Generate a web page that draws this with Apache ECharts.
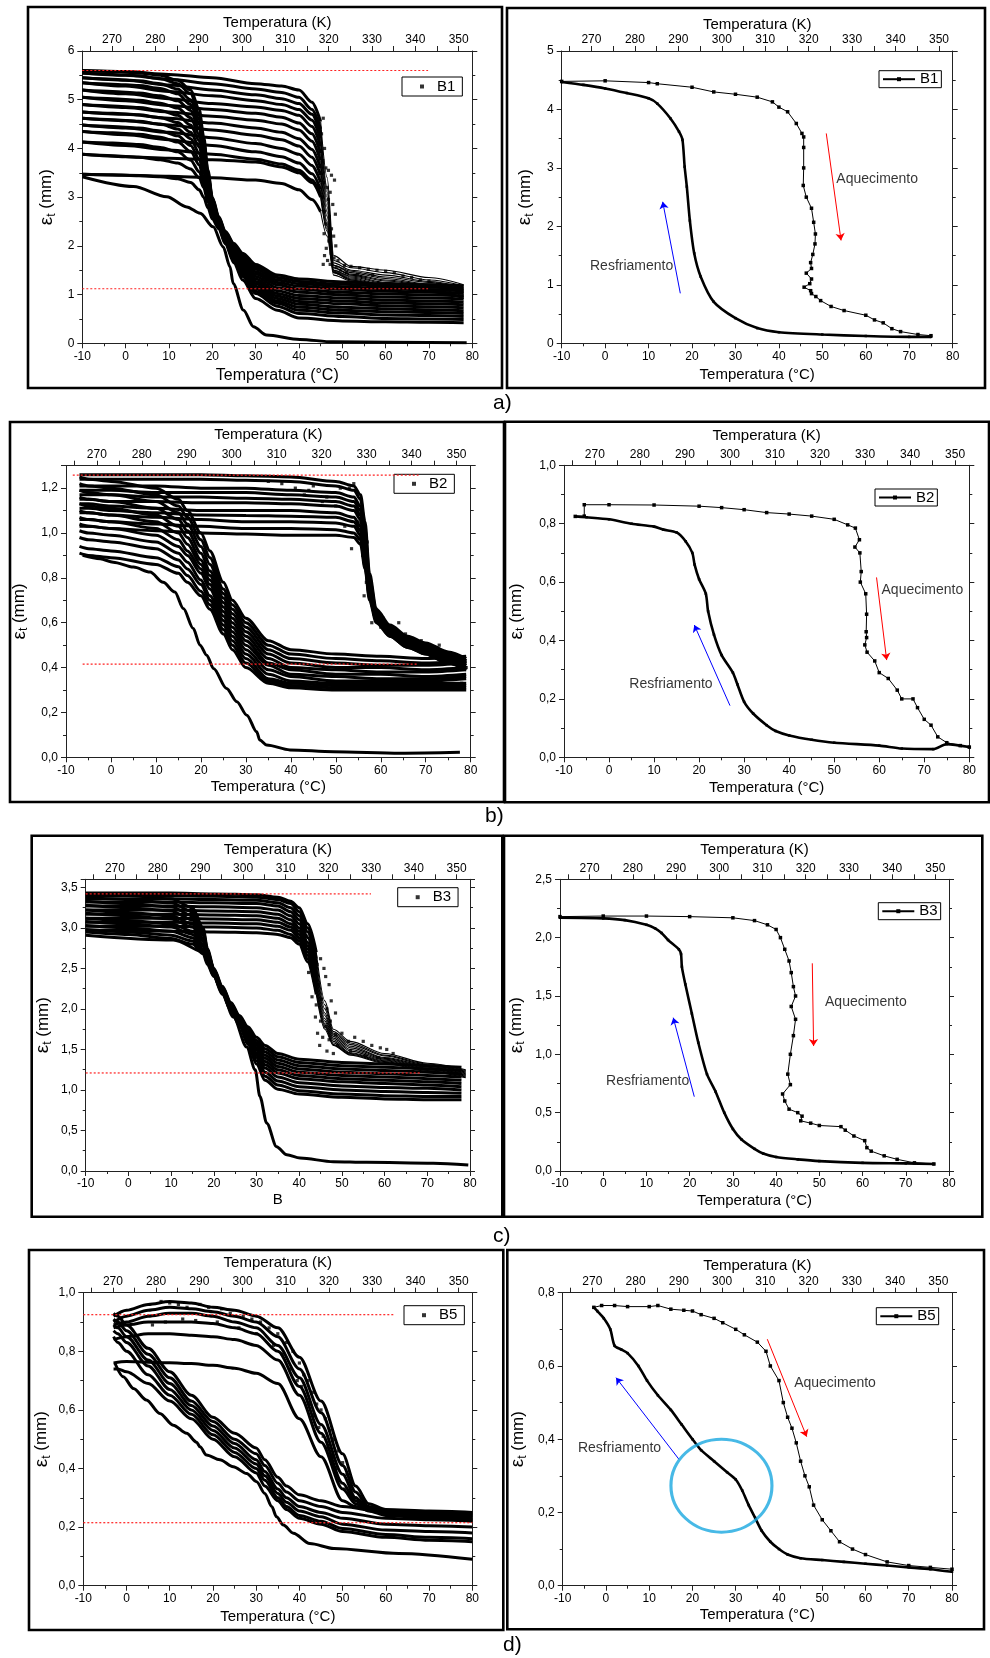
<!DOCTYPE html>
<html><head><meta charset="utf-8">
<script src="https://cdn.jsdelivr.net/npm/echarts@6/dist/echarts.min.js"></script>
<style>html,body{margin:0;padding:0;background:#fff}#c{width:990px;height:1658px}</style>
</head><body><div id="c"></div>
<script>
// ---------------- DATA ----------------
const kLabelVals = [270, 280, 290, 300, 310, 320, 330, 340, 350];
const kTickVals = [265, 270, 275, 280, 285, 290, 295, 300, 305, 310, 315, 320, 325, 330, 335, 340, 345, 350];

// ===== B1 (a, left): many cycles =====
const b1HeatT = [-10, 0, 10, 20, 30, 36, 40, 43, 45, 46.5, 48, 52, 60, 70, 78];
const b1Heat = [
  [5.60,5.58,5.52,5.45,5.33,5.28,5.20,4.95,4.55,3.40,1.80,1.58,1.50,1.35,1.20],
  [5.55,5.50,5.42,5.33,5.22,5.15,5.05,4.80,4.40,3.20,1.70,1.55,1.45,1.30,1.18],
  [5.45,5.40,5.30,5.20,5.10,5.02,4.92,4.70,4.30,3.10,1.65,1.50,1.40,1.27,1.15],
  [5.35,5.28,5.17,5.08,4.98,4.90,4.80,4.58,4.20,3.00,1.60,1.48,1.36,1.25,1.12],
  [5.20,5.12,5.02,4.92,4.85,4.78,4.68,4.45,4.05,2.90,1.60,1.45,1.33,1.22,1.10],
  [5.05,4.98,4.88,4.80,4.72,4.64,4.52,4.30,3.90,2.80,1.55,1.42,1.30,1.20,1.08],
  [4.90,4.84,4.75,4.66,4.58,4.50,4.38,4.15,3.75,2.70,1.55,1.40,1.28,1.18,1.05],
  [4.75,4.70,4.62,4.52,4.42,4.33,4.20,3.98,3.60,2.60,1.50,1.38,1.25,1.15,1.03],
  [4.62,4.57,4.48,4.38,4.27,4.18,4.05,3.82,3.45,2.50,1.50,1.36,1.23,1.12,1.00],
  [4.48,4.42,4.33,4.22,4.10,4.00,3.88,3.65,3.30,2.45,1.48,1.34,1.20,1.10,0.98],
  [4.35,4.28,4.18,4.06,3.93,3.83,3.70,3.48,3.15,2.40,1.46,1.32,1.18,1.08,0.96],
  [4.13,4.06,3.97,3.88,3.78,3.68,3.55,3.35,3.05,2.35,1.45,1.30,1.16,1.06,0.95],
  [3.88,3.83,3.80,3.77,3.72,3.62,3.50,3.30,3.00,2.30,1.45,1.30,1.15,1.05,0.93],
  [3.47,3.45,3.43,3.40,3.35,3.28,3.15,2.95,2.70,2.20,1.40,1.28,1.15,1.05,0.92]
];
const b1CoolT = [78, 70, 60, 50, 40, 35, 30, 27, 25, 23, 21.5, 20, 19, 18, 17, 15, 12, 8, 3, -3, -10];
const b1Cool = [
  [1.18,1.20,1.22,1.26,1.32,1.40,1.62,1.85,2.05,2.30,2.60,3.00,3.55,4.25,4.80,5.20,5.40,5.50,5.55,5.58,5.60],
  [1.13,1.15,1.17,1.21,1.27,1.35,1.57,1.81,2.02,2.28,2.58,2.98,3.50,4.18,4.70,5.12,5.33,5.43,5.49,5.52,5.55],
  [1.08,1.10,1.12,1.16,1.22,1.30,1.52,1.77,1.99,2.26,2.56,2.95,3.45,4.10,4.60,5.00,5.22,5.33,5.39,5.42,5.45],
  [1.03,1.05,1.07,1.11,1.17,1.25,1.47,1.73,1.96,2.24,2.55,2.93,3.42,4.02,4.50,4.90,5.12,5.23,5.29,5.32,5.35],
  [0.97,0.99,1.01,1.05,1.11,1.20,1.42,1.69,1.93,2.22,2.54,2.90,3.38,3.95,4.40,4.78,4.98,5.08,5.14,5.17,5.20],
  [0.91,0.93,0.95,0.99,1.05,1.14,1.37,1.65,1.90,2.20,2.52,2.88,3.33,3.88,4.28,4.63,4.83,4.93,4.99,5.02,5.05],
  [0.85,0.87,0.89,0.93,0.98,1.08,1.32,1.61,1.87,2.18,2.50,2.85,3.28,3.80,4.16,4.48,4.68,4.78,4.84,4.87,4.90],
  [0.79,0.81,0.83,0.87,0.92,1.02,1.27,1.57,1.84,2.16,2.48,2.82,3.23,3.70,4.03,4.33,4.53,4.63,4.69,4.72,4.75],
  [0.73,0.75,0.77,0.81,0.86,0.97,1.22,1.53,1.81,2.14,2.46,2.78,3.18,3.60,3.90,4.20,4.40,4.50,4.56,4.59,4.62],
  [0.67,0.69,0.71,0.74,0.80,0.92,1.17,1.49,1.78,2.12,2.44,2.74,3.12,3.50,3.78,4.06,4.26,4.36,4.42,4.45,4.48],
  [0.61,0.63,0.65,0.68,0.74,0.87,1.12,1.45,1.75,2.10,2.42,2.70,3.05,3.40,3.66,3.94,4.13,4.23,4.29,4.32,4.35],
  [0.55,0.57,0.58,0.62,0.68,0.82,1.07,1.41,1.72,2.08,2.40,2.66,2.98,3.30,3.52,3.76,3.93,4.02,4.08,4.11,4.13],
  [0.49,0.50,0.51,0.55,0.61,0.76,1.02,1.37,1.69,2.06,2.38,2.62,2.90,3.20,3.40,3.58,3.70,3.77,3.82,3.85,3.88],
  [0.42,0.43,0.44,0.46,0.52,0.68,0.92,1.30,1.65,2.04,2.35,2.55,2.78,3.00,3.15,3.30,3.38,3.42,3.44,3.46,3.47]
];
const b1First = [[-10,3.42],[1.8,3.22],[9.5,3.01],[14.1,2.8],[17.2,2.67],[20.2,2.39],[22.5,1.98],[24.1,1.57],[24.8,1.23],[27.2,0.68],[29.5,0.34],[32.5,0.17],[40.2,0.08],[47.9,0.03],[78.7,0.01]];
const b1Cloud = [[45.6,4.62],[45.2,4.3],[44.8,4.1],[45.9,4.0],[44.5,3.9],[45.5,3.75],[46.2,3.6],[44.9,3.5],[46.8,3.55],[47.5,3.45],[45.8,3.3],[46.5,3.2],[47.2,3.1],[48.2,3.35],[45.5,3.0],[46.8,2.95],[47.8,2.85],[45.9,2.7],[47.0,2.6],[48.4,2.65],[46.2,2.45],[47.5,2.35],[48.0,2.2],[45.8,2.25],[46.9,2.1],[48.5,2.0],[46.3,1.95],[47.4,1.85],[45.9,1.8],[48.1,1.75],[46.6,1.7],[49.0,1.7],[47.2,1.62],[45.6,1.62],[50.5,1.6],[52,1.58],[54,1.55],[56,1.52],[58,1.5],[60,1.48],[62,1.45],[64,1.38],[66,1.35],[68,1.3],[70,1.28],[48.6,1.55],[49.5,1.5],[51,1.45],[53.5,1.42],[57,1.4],[72,1.22],[75,1.18],[77,1.1]];
const b1Ref = [[5.6,-10,69.8],[1.12,-10,69.8]];

// ===== B1 (a, right): single cycle =====
const b1RCool = [[75,0.11],[70,0.11],[60,0.125],[50,0.15],[40,0.19],[35,0.26],[30,0.43],[25,0.71],[22,1.14],[20.5,1.54],[19.5,2.1],[18.8,2.68],[18.3,3.02],[17.8,3.48],[17,3.62],[15,3.85],[12,4.1],[10,4.19],[5,4.28],[0,4.36],[-5,4.42],[-10,4.47]];
const b1RHeat = [[-10,4.48],[0,4.49],[10,4.46],[12,4.44],[20,4.38],[25,4.3],[30,4.26],[35,4.21],[38.5,4.13],[40,4.04],[42,3.96],[44,3.76],[45.3,3.59],[45.7,3.53],[45.7,3.35],[45.7,3.0],[45.6,2.7],[46.3,2.5],[47.5,2.31],[48,2.07],[48.4,1.87],[48.3,1.7],[47.8,1.52],[47.3,1.38],[47.5,1.28],[46.3,1.2],[47.5,1.1],[47.1,1.02],[45.8,0.96],[47.3,0.9],[47.5,0.85],[48.5,0.8],[49.6,0.73],[52,0.63],[55,0.56],[60,0.48],[62,0.4],[64,0.35],[66,0.25],[68,0.2],[72,0.15],[75,0.13]];
const b1Up = [[17.3,0.855],[13.25,2.42]];
const b1Down = [[50.9,3.59],[54.3,1.76]];
const b1Notes = [[53.2,2.8,'Aquecimento'],[-3.5,1.32,'Resfriamento']];

// ===== B2 (b, left) =====
const b2HeatT = [-7, -5, 0, 10, 20, 30, 40, 50, 54, 55.5, 56.5, 57.5, 59, 62, 66, 70, 75, 79];
const b2Heat = [
  [1.26,1.26,1.26,1.26,1.26,1.255,1.25,1.23,1.21,1.17,1.05,0.82,0.66,0.59,0.54,0.51,0.47,0.44],
  [1.24,1.24,1.24,1.24,1.24,1.235,1.23,1.21,1.19,1.15,1.02,0.80,0.65,0.58,0.53,0.50,0.46,0.43],
  [1.21,1.21,1.21,1.21,1.20,1.20,1.19,1.18,1.16,1.12,0.99,0.78,0.64,0.58,0.53,0.50,0.46,0.43],
  [1.19,1.19,1.19,1.18,1.18,1.18,1.17,1.16,1.14,1.10,0.96,0.77,0.64,0.57,0.52,0.49,0.45,0.42],
  [1.17,1.17,1.17,1.16,1.16,1.155,1.15,1.14,1.12,1.08,0.94,0.76,0.63,0.57,0.52,0.49,0.45,0.42],
  [1.15,1.15,1.14,1.14,1.135,1.135,1.13,1.12,1.10,1.06,0.92,0.75,0.63,0.56,0.51,0.48,0.44,0.41],
  [1.13,1.13,1.12,1.11,1.10,1.10,1.10,1.09,1.07,1.03,0.90,0.74,0.62,0.56,0.51,0.48,0.44,0.41],
  [1.11,1.11,1.10,1.09,1.08,1.078,1.075,1.07,1.05,1.01,0.88,0.73,0.62,0.55,0.50,0.47,0.43,0.40],
  [1.09,1.09,1.08,1.07,1.06,1.05,1.05,1.045,1.03,0.99,0.86,0.72,0.61,0.55,0.50,0.47,0.43,0.40],
  [1.06,1.06,1.05,1.04,1.03,1.02,1.02,1.015,1.00,0.97,0.85,0.71,0.61,0.54,0.49,0.46,0.42,0.39],
  [1.03,1.03,1.02,1.01,1.00,0.995,0.99,0.99,0.98,0.95,0.84,0.70,0.60,0.54,0.49,0.46,0.42,0.39]
];
const b2CoolT = [79, 70, 60, 50, 40, 35, 30, 27, 25, 22, 20, 17, 15, 10, 0, -5, -7];
const b2Cool = [
  [0.45,0.44,0.45,0.46,0.48,0.52,0.62,0.70,0.78,0.92,1.00,1.10,1.15,1.20,1.23,1.24,1.25],
  [0.43,0.42,0.43,0.44,0.46,0.50,0.60,0.68,0.75,0.89,0.97,1.07,1.12,1.17,1.20,1.21,1.22],
  [0.42,0.41,0.41,0.42,0.44,0.48,0.58,0.66,0.73,0.86,0.94,1.04,1.09,1.14,1.17,1.18,1.19],
  [0.40,0.39,0.40,0.40,0.42,0.46,0.56,0.64,0.71,0.83,0.91,1.01,1.06,1.11,1.14,1.15,1.16],
  [0.39,0.38,0.38,0.39,0.40,0.44,0.54,0.62,0.69,0.81,0.88,0.98,1.03,1.08,1.11,1.12,1.13],
  [0.37,0.36,0.37,0.37,0.39,0.42,0.52,0.60,0.67,0.79,0.86,0.95,1.00,1.05,1.08,1.09,1.10],
  [0.36,0.35,0.35,0.36,0.37,0.41,0.50,0.58,0.65,0.77,0.84,0.92,0.97,1.02,1.05,1.06,1.07],
  [0.35,0.34,0.34,0.34,0.36,0.39,0.48,0.56,0.63,0.75,0.82,0.90,0.94,0.99,1.02,1.03,1.04],
  [0.33,0.33,0.33,0.33,0.34,0.37,0.46,0.54,0.61,0.72,0.79,0.87,0.91,0.96,0.99,1.00,1.01],
  [0.32,0.32,0.32,0.32,0.33,0.35,0.44,0.52,0.59,0.70,0.77,0.84,0.88,0.93,0.96,0.97,0.98],
  [0.31,0.31,0.31,0.31,0.32,0.34,0.42,0.50,0.57,0.68,0.74,0.81,0.85,0.89,0.92,0.93,0.94],
  [0.30,0.30,0.30,0.30,0.31,0.33,0.40,0.48,0.55,0.66,0.72,0.78,0.82,0.86,0.89,0.90,0.91]
];
const b2First = [[77.6,0.022],[64.3,0.018],[49.5,0.025],[39.8,0.033],[34.6,0.055],[33.1,0.077],[32.4,0.114],[30.2,0.188],[28,0.248],[25.7,0.307],[22.8,0.396],[21.3,0.455],[19.8,0.5],[18.3,0.574],[16.1,0.663],[14.2,0.737],[11.6,0.78],[8.7,0.826],[5,0.848],[0.5,0.87],[-2.4,0.885],[-6.3,0.9]];
const b2Cloud = [[53.5,0.93],[55,1.05],[55.5,0.98],[56,0.9],[56.5,0.85],[57,0.96],[56.8,0.78],[57.5,0.72],[56.3,0.72],[58,0.68],[59,0.66],[60.5,0.62],[61,0.6],[63,0.57],[64,0.6],[65.5,0.55],[67,0.53],[69,0.52],[70.5,0.5],[72,0.48],[73,0.5],[74,0.47],[76,0.44],[58,0.6],[60,0.58],[62,0.55],[66,0.5],[68,0.48],[71,0.45],[73.5,0.43],[52,1.03],[50,1.12],[47,1.14],[44,1.19],[41,1.2],[38,1.22],[35,1.23],[51,1.2],[53,1.2],[54,1.22],[45,1.21],[43,1.17],[48,1.16],[77,0.36],[78,0.33],[79,0.4]];
const b2Ref = [[1.258,-8.5,68.4],[0.415,-6.3,68.4]];

// ===== B2 (b, right) =====
const b2RCool = [[80,0.035],[75,0.045],[72,0.028],[65,0.03],[60,0.04],[50,0.05],[45,0.06],[40,0.075],[37,0.09],[35,0.11],[32,0.15],[30,0.19],[28.5,0.25],[27.5,0.29],[25,0.35],[23.3,0.42],[22,0.5],[21.5,0.56],[20,0.61],[19,0.66],[18.5,0.7],[17,0.74],[15,0.77],[12,0.78],[10,0.79],[5,0.8],[0,0.815],[-5,0.822],[-7.5,0.825]];
const b2RHeat = [[-7.5,0.825],[-5.5,0.826],[-5.5,0.865],[0,0.865],[10,0.864],[20,0.86],[25,0.855],[30,0.848],[35,0.838],[40,0.833],[45,0.826],[50,0.815],[53,0.796],[54.7,0.785],[55.6,0.745],[54.6,0.72],[55.7,0.7],[56,0.636],[55.8,0.6],[57,0.56],[57.2,0.49],[57.1,0.43],[57.2,0.41],[56.8,0.385],[57.3,0.36],[59,0.33],[60,0.29],[62,0.27],[64,0.23],[65,0.2],[67.5,0.2],[68.5,0.17],[70,0.13],[71.5,0.11],[73,0.07],[75,0.05],[78,0.04],[80,0.035]];
const b2Up = [[26.86,0.177],[18.94,0.453]];
const b2Down = [[59.4,0.616],[61.65,0.333]];
const b2Notes = [[60.5,0.573,'Aquecimento'],[4.5,0.251,'Resfriamento']];

// ===== B3 (c, left) =====
const b3HeatT = [-10, 0, 10, 20, 30, 35, 38, 40, 42, 44, 46, 48, 52, 60, 70, 79];
const b3Heat = [
  [3.43,3.43,3.43,3.42,3.41,3.38,3.33,3.25,3.05,2.70,2.10,1.75,1.60,1.45,1.33,1.25],
  [3.40,3.40,3.40,3.39,3.38,3.35,3.30,3.20,3.00,2.62,2.05,1.72,1.58,1.43,1.32,1.24],
  [3.36,3.36,3.36,3.35,3.34,3.31,3.25,3.15,2.95,2.55,2.00,1.70,1.56,1.42,1.31,1.23],
  [3.32,3.32,3.32,3.31,3.30,3.27,3.20,3.10,2.88,2.50,1.95,1.68,1.54,1.40,1.30,1.22],
  [3.27,3.27,3.27,3.26,3.25,3.22,3.15,3.05,2.82,2.45,1.92,1.66,1.52,1.39,1.29,1.21],
  [3.22,3.22,3.22,3.21,3.20,3.17,3.10,3.00,2.78,2.40,1.88,1.64,1.50,1.38,1.28,1.20],
  [3.17,3.17,3.17,3.16,3.15,3.12,3.05,2.96,2.74,2.35,1.85,1.62,1.48,1.37,1.27,1.19],
  [3.12,3.12,3.12,3.11,3.10,3.07,3.01,2.92,2.70,2.30,1.82,1.60,1.46,1.36,1.26,1.18],
  [3.07,3.07,3.07,3.06,3.05,3.02,2.97,2.88,2.66,2.26,1.80,1.58,1.45,1.35,1.25,1.17],
  [3.02,3.02,3.02,3.01,3.00,2.97,2.92,2.84,2.62,2.22,1.78,1.56,1.44,1.34,1.24,1.16],
  [2.97,2.97,2.96,2.95,2.94,2.92,2.88,2.80,2.58,2.18,1.75,1.55,1.43,1.33,1.23,1.15]
];
const b3CoolT = [78, 70, 60, 50, 40, 35, 32, 30, 28, 26, 24, 22, 20, 18.5, 17.5, 15, 10, 0, -10];
const b3Cool = [
  [1.28,1.30,1.32,1.34,1.38,1.45,1.55,1.65,1.78,1.92,2.08,2.28,2.50,2.75,3.00,3.25,3.36,3.40,3.42],
  [1.24,1.26,1.28,1.30,1.34,1.41,1.51,1.61,1.75,1.90,2.07,2.27,2.49,2.73,2.97,3.20,3.31,3.35,3.38],
  [1.20,1.22,1.24,1.26,1.30,1.37,1.47,1.58,1.72,1.88,2.06,2.26,2.48,2.71,2.94,3.15,3.26,3.30,3.33],
  [1.16,1.18,1.20,1.22,1.26,1.33,1.43,1.55,1.70,1.87,2.05,2.25,2.47,2.69,2.91,3.10,3.21,3.25,3.28],
  [1.12,1.14,1.16,1.18,1.22,1.29,1.39,1.52,1.68,1.86,2.04,2.24,2.46,2.67,2.87,3.05,3.15,3.19,3.22],
  [1.08,1.10,1.12,1.14,1.18,1.25,1.35,1.49,1.66,1.85,2.03,2.23,2.45,2.65,2.84,3.01,3.11,3.15,3.18],
  [1.04,1.06,1.08,1.10,1.14,1.21,1.31,1.46,1.64,1.84,2.02,2.22,2.44,2.63,2.80,2.96,3.05,3.09,3.12],
  [1.00,1.02,1.03,1.05,1.09,1.16,1.27,1.43,1.62,1.83,2.01,2.21,2.43,2.61,2.77,2.92,3.01,3.05,3.08],
  [0.96,0.97,0.98,1.00,1.04,1.11,1.22,1.40,1.60,1.82,2.00,2.20,2.42,2.59,2.74,2.88,2.96,3.00,3.03],
  [0.92,0.92,0.93,0.95,0.99,1.06,1.17,1.36,1.58,1.81,1.99,2.19,2.41,2.57,2.71,2.84,2.91,2.95,2.98],
  [0.88,0.88,0.89,0.91,0.95,1.01,1.12,1.32,1.56,1.80,1.98,2.18,2.40,2.55,2.68,2.80,2.87,2.92,2.95]
];
const b3First = [[-10,2.91],[10.5,2.85],[18.3,2.69],[21.5,2.27],[24.6,1.9],[27.7,1.53],[29.7,1.25],[30.8,0.92],[32.4,0.59],[34.7,0.3],[37.1,0.2],[40.2,0.16],[48,0.115],[55.8,0.107],[71.4,0.095],[79.6,0.074]];
const b3Cloud = [[40.2,2.85],[41,2.78],[41.8,2.9],[42.5,2.75],[43,2.6],[43.6,2.7],[44.2,2.55],[45,2.62],[45.8,2.5],[42.2,2.45],[43.5,2.35],[44.5,2.3],[46.2,2.4],[47,2.3],[43,2.15],[44,2.05],[45.2,2.12],[46.5,2.0],[47.5,2.1],[43.8,1.9],[45,1.85],[46,1.78],[47.3,1.85],[48.5,1.95],[44.3,1.7],[45.5,1.65],[47,1.62],[48.5,1.68],[50,1.7],[51.5,1.6],[53,1.65],[55,1.6],[57,1.55],[59,1.52],[60.5,1.5],[62,1.45],[49,1.55],[52,1.48],[55.5,1.42],[58.5,1.4],[61,1.38],[44.8,1.55],[46.5,1.48],[48,1.45]];
const b3Ref = [[3.42,-10,56.8],[1.21,-10,68.7]];

// ===== B3 (c, right) =====
const b3RCool = [[76.5,0.06],[70,0.065],[60,0.07],[50,0.085],[45,0.1],[40,0.12],[37,0.15],[35,0.19],[32,0.27],[30,0.36],[28,0.5],[26,0.68],[24,0.83],[22,1.1],[20.5,1.35],[19,1.6],[18.2,1.75],[18,1.86],[17.5,1.9],[15,1.98],[13.5,2.04],[12,2.08],[10,2.11],[5,2.15],[0,2.165],[-10,2.17]];
const b3RHeat = [[-10,2.18],[0,2.185],[10,2.185],[20,2.18],[30,2.17],[35,2.146],[38,2.11],[40,2.07],[41,2.0],[42,1.9],[43,1.8],[43.5,1.7],[44,1.58],[44.5,1.5],[43.5,1.41],[44.5,1.3],[44,1.16],[43.3,1.0],[42.7,0.83],[43.3,0.74],[41.5,0.66],[42,0.6],[43,0.53],[45,0.5],[46,0.47],[45.7,0.43],[48,0.41],[50,0.39],[55,0.38],[56,0.35],[58,0.3],[60.5,0.26],[61,0.2],[62,0.17],[65,0.13],[68,0.1],[72,0.07],[76.5,0.06]];
const b3Up = [[21.07,0.637],[16.2,1.314]];
const b3Down = [[48.37,1.78],[48.67,1.071]];
const b3Notes = [[51.3,1.45,'Aquecimento'],[0.64,0.774,'Resfriamento']];

// ===== B5 (d, left) =====
const b5HeatT = [-3, 0, 5, 10, 15, 20, 25, 30, 35, 40, 45, 50, 53, 56, 60, 70, 80];
const b5Heat = [
  [0.92,0.94,0.96,0.97,0.965,0.95,0.94,0.92,0.88,0.78,0.63,0.45,0.34,0.28,0.26,0.255,0.25],
  [0.90,0.92,0.94,0.95,0.945,0.935,0.92,0.90,0.85,0.74,0.59,0.41,0.32,0.27,0.255,0.25,0.245],
  [0.89,0.90,0.92,0.93,0.93,0.92,0.90,0.88,0.82,0.71,0.55,0.38,0.30,0.265,0.25,0.24,0.24],
  [0.88,0.89,0.90,0.90,0.90,0.895,0.88,0.86,0.80,0.68,0.52,0.35,0.29,0.26,0.245,0.235,0.23],
  [0.84,0.85,0.86,0.86,0.855,0.85,0.84,0.82,0.77,0.65,0.49,0.33,0.28,0.255,0.24,0.23,0.225],
  [0.76,0.765,0.763,0.761,0.758,0.752,0.742,0.725,0.69,0.57,0.44,0.29,0.27,0.26,0.25,0.245,0.24]
];
const b5CoolT = [80, 70, 60, 50, 45, 40, 37, 35, 32, 30, 25, 20, 15, 10, 5, 0, -2, -3];
const b5Cool = [
  [0.25,0.25,0.25,0.27,0.29,0.31,0.34,0.37,0.43,0.47,0.52,0.575,0.65,0.73,0.81,0.89,0.92,0.93],
  [0.22,0.225,0.23,0.25,0.27,0.29,0.32,0.35,0.41,0.45,0.50,0.56,0.63,0.71,0.79,0.87,0.90,0.91],
  [0.20,0.205,0.21,0.23,0.25,0.27,0.30,0.33,0.39,0.43,0.485,0.545,0.615,0.69,0.77,0.85,0.88,0.89],
  [0.18,0.185,0.19,0.21,0.235,0.255,0.285,0.315,0.375,0.415,0.47,0.53,0.60,0.67,0.75,0.83,0.86,0.87],
  [0.16,0.165,0.175,0.195,0.22,0.24,0.27,0.30,0.36,0.40,0.455,0.515,0.585,0.65,0.72,0.80,0.83,0.85],
  [0.15,0.155,0.165,0.185,0.21,0.23,0.26,0.29,0.34,0.385,0.44,0.50,0.57,0.63,0.69,0.73,0.74,0.74]
];
const b5First = [[80,0.09],[63,0.11],[48,0.127],[42.4,0.144],[38.6,0.179],[36.3,0.207],[34.7,0.235],[33.6,0.27],[32,0.315],[30.1,0.355],[27.8,0.383],[24.7,0.406],[21.6,0.43],[18.5,0.446],[17,0.474],[16.2,0.49],[13.9,0.52],[10.8,0.548],[7.7,0.588],[4.6,0.634],[1.6,0.673],[-0.75,0.713],[-2.7,0.76]];
const b5Cloud = [[8,0.97],[10,0.965],[12,0.96],[14,0.95],[17,0.96],[19,0.95],[22,0.945],[24,0.93],[27,0.92],[29,0.91],[31,0.9],[33,0.88],[35,0.86],[37,0.83],[38.5,0.8],[40,0.76],[41,0.72],[42,0.7],[43,0.66],[44,0.62],[45,0.6],[46,0.57],[47,0.53],[48,0.5],[49,0.46],[50,0.42],[51,0.38],[52,0.34],[53,0.3],[54,0.29],[38,0.74],[40.5,0.68],[42.5,0.62],[44.5,0.54],[46.5,0.47],[48.5,0.4],[50.5,0.33],[6,0.89],[9,0.9],[13,0.91],[16,0.905],[21,0.9],[26,0.88],[30,0.86],[34,0.82],[36,0.79],[39.5,0.7],[43.5,0.58],[45.5,0.51],[47.5,0.44]];
const b5Ref = [[0.925,-10,61.9],[0.215,-10,80]];

// ===== B5 (d, right) =====
const b5RCool = [[80,0.038],[75,0.045],[70,0.05],[65,0.055],[60,0.06],[55,0.065],[50,0.07],[45,0.075],[42,0.085],[40,0.1],[38,0.12],[36,0.15],[34.5,0.185],[33,0.22],[31.5,0.26],[30,0.29],[28,0.31],[25,0.34],[22,0.37],[20,0.4],[17.5,0.44],[15,0.48],[12,0.52],[9.5,0.56],[7.5,0.6],[5,0.635],[3.5,0.645],[2,0.655],[1,0.7],[-0.5,0.73],[-2,0.75],[-2.8,0.76]];
const b5RHeat = [[-2.8,0.76],[-1,0.765],[2,0.765],[5,0.762],[10,0.762],[12,0.765],[15,0.755],[18,0.752],[20,0.75],[22,0.74],[25,0.73],[27,0.718],[30,0.7],[32,0.685],[35,0.665],[37,0.64],[38,0.6],[40,0.56],[41,0.5],[42,0.46],[43,0.43],[44,0.39],[45,0.34],[46,0.3],[47,0.27],[48,0.22],[50,0.18],[52,0.15],[54,0.12],[57,0.1],[60,0.085],[65,0.065],[70,0.055],[75,0.05],[80,0.045]];
const b5Up = [[16.89,0.345],[2.33,0.568]];
const b5Down = [[37.3,0.673],[46.4,0.407]];
const b5Notes = [[43.5,0.552,'Aquecimento'],[-6.5,0.375,'Resfriamento']];
const b5Circle = [[26.7,0.273]];

// ---------------- LAYOUT / STYLE ----------------
const F = '"Liberation Sans", Arial, Helvetica, sans-serif';
const panels = [
  {grid:[82.3,51,390,292.3], frame:[28,7,474,381], leg:[402,77], ymax:6, yint:1, dec:0, hideMax:false, xName:'Temperatura (°C)', xSize:16, yGap:25, xGap:24, kGap:21},
  {grid:[561.7,51,391,292.3], frame:[507,8,478,380], leg:[879,70.7], ymax:5, yint:1, dec:0, hideMax:false, xName:'Temperatura (°C)', xSize:15, yGap:26, xGap:24, kGap:19},
  {grid:[66,465.7,404.7,291.6], frame:[10,422,494,380], leg:[394,474.3], ymax:1.3, yint:0.2, dec:1, hideMax:true, xName:'Temperatura (°C)', xSize:15, yGap:36, xGap:22, kGap:23},
  {grid:[564,465.3,405.3,292], frame:[505,421.7,484,380.6], leg:[875,489], ymax:1, yint:0.2, dec:1, hideMax:false, xName:'Temperatura (°C)', xSize:15, yGap:37, xGap:23, kGap:22},
  {grid:[85.7,879.3,384.3,291.7], frame:[31.7,835.7,470.6,381], leg:[397.7,887.7], ymax:3.6, yint:0.5, dec:1, hideMax:true, xName:'B', xSize:15, yGap:32, xGap:21, kGap:22},
  {grid:[560,879.3,389,291.7], frame:[504,835.7,478.3,381], leg:[878.3,902.7], ymax:2.5, yint:0.5, dec:1, hideMax:false, xName:'Temperatura (°C)', xSize:15, yGap:33, xGap:22, kGap:22},
  {grid:[83.3,1292.7,389,293], frame:[29,1250,474.3,380], leg:[404,1305.7], ymax:1, yint:0.2, dec:1, hideMax:false, xName:'Temperatura (°C)', xSize:15, yGap:31, xGap:24, kGap:22},
  {grid:[562.7,1292.7,389.3,293], frame:[507.3,1250,476.7,379.3], leg:[876.3,1307.7], ymax:0.8, yint:0.2, dec:1, hideMax:false, xName:'Temperatura (°C)', xSize:15, yGap:34, xGap:22, kGap:19}
];
const rowLabels = [['a)',493,405],['b)',485,818],['c)',493,1238],['d)',503,1647]];

// split: temperature after which heating branches are drawn thin (scattered transition zone)
const leftSets = [
  {p:0, name:'B1', heatT:b1HeatT, heat:b1Heat, coolT:b1CoolT, cool:b1Cool, first:b1First, cloud:b1Cloud, ref:b1Ref, split:45},
  {p:2, name:'B2', heatT:b2HeatT, heat:b2Heat, coolT:b2CoolT, cool:b2Cool, first:b2First, cloud:b2Cloud, ref:b2Ref, split:null},
  {p:4, name:'B3', heatT:b3HeatT, heat:b3Heat, coolT:b3CoolT, cool:b3Cool, first:b3First, cloud:b3Cloud, ref:b3Ref, split:44},
  {p:6, name:'B5', heatT:b5HeatT, heat:b5Heat, coolT:b5CoolT, cool:b5Cool, first:b5First, cloud:b5Cloud, ref:b5Ref, split:null}
];
const rightSets = [
  {p:1, name:'B1', cool:b1RCool, heat:b1RHeat, up:b1Up, down:b1Down, notes:b1Notes},
  {p:3, name:'B2', cool:b2RCool, heat:b2RHeat, up:b2Up, down:b2Down, notes:b2Notes},
  {p:5, name:'B3', cool:b3RCool, heat:b3RHeat, up:b3Up, down:b3Down, notes:b3Notes},
  {p:7, name:'B5', cool:b5RCool, heat:b5RHeat, up:b5Up, down:b5Down, notes:b5Notes, circle:b5Circle}
];

// ---------------- BUILD ----------------
const grids = [], xAxes = [], yAxes = [], legends = [], series = [], graphics = [];
const axisLineStyle = {color:'#222', width:1};
const lbl = {color:'#000', fontFamily:F, fontSize:12};

panels.forEach((P, i) => {
  const [gl, gt, gw, gh] = P.grid;
  grids.push({left:gl, top:gt, width:gw, height:gh, containLabel:false, outerBoundsMode:'none'});
  const fmt = v => P.dec ? v.toFixed(P.dec).replace('.', ',') : String(Math.round(v));
  xAxes.push({type:'value', gridIndex:i, position:'bottom', min:-10, max:80, interval:10,
    axisLine:{show:true, onZero:false, lineStyle:axisLineStyle},
    axisTick:{show:true, length:5, lineStyle:axisLineStyle},
    minorTick:{show:true, splitNumber:2, length:3, lineStyle:axisLineStyle},
    splitLine:{show:false}, minorSplitLine:{show:false},
    axisLabel:Object.assign({margin:7}, lbl),
    name:P.xName, nameLocation:'middle', nameGap:P.xGap,
    nameTextStyle:{color:'#000', fontFamily:F, fontSize:P.xSize}});
  xAxes.push({type:'value', gridIndex:i, position:'top', min:263.15, max:353.15,
    axisLine:{show:true, onZero:false, lineStyle:axisLineStyle},
    axisTick:{show:true, length:5, customValues:kTickVals, lineStyle:axisLineStyle},
    splitLine:{show:false},
    axisLabel:Object.assign({margin:5, customValues:kLabelVals, formatter: v => String(Math.round(v))}, lbl),
    name:'Temperatura (K)', nameLocation:'middle', nameGap:P.kGap,
    nameTextStyle:{color:'#000', fontFamily:F, fontSize:15}});
  yAxes.push({type:'value', gridIndex:i, position:'left', min:0, max:P.ymax, interval:P.yint,
    axisLine:{show:true, onZero:false, lineStyle:axisLineStyle},
    axisTick:{show:true, length:5, lineStyle:axisLineStyle},
    minorTick:{show:true, splitNumber:2, length:3, lineStyle:axisLineStyle},
    splitLine:{show:false}, minorSplitLine:{show:false},
    axisLabel:Object.assign({margin:8, formatter:fmt, showMaxLabel:!P.hideMax}, lbl),
    name:'{e|ε}{t|t} {m|(mm)}', nameLocation:'middle', nameGap:P.yGap,
    nameTextStyle:{color:'#000', fontFamily:F, fontSize:17,
      rich:{e:{fontSize:19, fontFamily:F, color:'#000'}, t:{fontSize:12, fontFamily:F, color:'#000', padding:[9,0,0,0]}, m:{fontSize:17, fontFamily:F, color:'#000'}}}});
  yAxes.push({type:'value', gridIndex:i, position:'right', min:0, max:P.ymax, interval:P.yint,
    axisLine:{show:true, onZero:false, lineStyle:axisLineStyle},
    axisTick:{show:true, length:5, lineStyle:axisLineStyle},
    minorTick:{show:true, splitNumber:2, length:3, lineStyle:axisLineStyle},
    splitLine:{show:false}, minorSplitLine:{show:false},
    axisLabel:{show:false}});
  const [fx, fy, fw, fh] = P.frame;
  graphics.push({type:'rect', shape:{x:fx, y:fy, width:fw, height:fh}, style:{fill:'none', stroke:'#000', lineWidth:2.6}, silent:true, z:100});
});

rowLabels.forEach(([t, x, y]) => graphics.push({type:'text', left:x, top:y-12, style:{text:t, fontSize:21, fontFamily:F, fill:'#000'}, silent:true}));

const ax = p => ({xAxisIndex:p*2, yAxisIndex:p*2});
const thick = {type:'line', symbol:'none', smooth:0.3, smoothMonotone:'x', silent:true, lineStyle:{color:'#000', width:3}, z:2};
const thin = {type:'line', symbol:'none', smooth:0.3, smoothMonotone:'x', silent:true, lineStyle:{color:'#000', width:1.1}, z:2};

leftSets.forEach(S => {
  S.heat.forEach(row => {
    const pts = S.heatT.map((t, j) => [t, row[j]]);
    if (S.split == null) {
      series.push(Object.assign({}, thick, ax(S.p), {data:pts}));
    } else {
      series.push(Object.assign({}, thick, ax(S.p), {data:pts.filter(d => d[0] <= S.split)}));
      series.push(Object.assign({}, thin, ax(S.p), {data:pts.filter(d => d[0] >= S.split)}));
    }
  });
  S.cool.forEach(row => series.push(Object.assign({}, thick, ax(S.p), {data:S.coolT.map((t, j) => [t, row[j]])})));
  series.push(Object.assign({}, thick, ax(S.p), {data:S.first}));
  series.push(Object.assign({type:'scatter', name:S.name, symbol:'rect', symbolSize:3.2, silent:true, itemStyle:{color:'#000'}, data:S.cloud, z:3}, ax(S.p)));
  S.ref.forEach(([y, x0, x1]) => series.push(Object.assign({type:'line', symbol:'none', silent:true, z:6,
    lineStyle:{color:'#ff2020', width:1.2, type:[2,2]}, data:[[x0, y], [x1, y]]}, ax(S.p))));
  const P = panels[S.p];
  legends.push({show:true, left:P.leg[0], top:P.leg[1], orient:'horizontal', selectedMode:false,
    data:[{name:S.name, icon:'rect'}], itemWidth:4, itemHeight:4, borderColor:'#000', borderWidth:1,
    padding:[2, 7, 2, 18], textStyle:{color:'#000', fontFamily:F, fontSize:15, padding:[0, 0, 0, 8]}});
});

rightSets.forEach(S => {
  const P = panels[S.p];
  series.push(Object.assign({type:'line', symbol:'rect', symbolSize:2.5, showSymbol:true, smooth:0.25, silent:true,
    lineStyle:{color:'#000', width:2.6}, itemStyle:{color:'#000'}, data:S.cool, z:2}, ax(S.p)));
  series.push(Object.assign({type:'line', name:S.name + '-ciclo', symbol:'rect', symbolSize:3.5, showSymbol:true, silent:true,
    lineStyle:{color:'#000', width:1}, itemStyle:{color:'#000'}, data:S.heat, z:3}, ax(S.p)));
  series.push(Object.assign({type:'scatter', symbolSize:0.1, silent:true, itemStyle:{color:'transparent'},
    data:S.notes,
    label:{show:true, position:'right', distance:0, formatter:p => p.data[2], color:'#000', fontFamily:F, fontSize:14}, z:4}, ax(S.p)));
  series.push(Object.assign({type:'lines', coordinateSystem:'cartesian2d', silent:true, polyline:false,
    symbol:['none', 'arrow'], symbolSize:7, z:5,
    lineStyle:{color:'#0000ff', width:1, opacity:1, curveness:0},
    data:[{coords:S.up}]}, ax(S.p)));
  series.push(Object.assign({type:'lines', coordinateSystem:'cartesian2d', silent:true, polyline:false,
    symbol:['none', 'arrow'], symbolSize:7, z:5,
    lineStyle:{color:'#ff0000', width:1, opacity:1, curveness:0},
    data:[{coords:S.down}]}, ax(S.p)));
  if (S.circle) {
    series.push(Object.assign({type:'scatter', symbol:'circle', symbolSize:[101, 93], silent:true,
      itemStyle:{color:'rgba(0,0,0,0)', borderColor:'#19a7e0', borderWidth:3}, data:S.circle, z:5}, ax(S.p)));
  }
  legends.push({show:true, left:P.leg[0], top:P.leg[1], orient:'horizontal', selectedMode:false,
    data:[S.name + '-ciclo'], formatter:n => n.split('-')[0], itemWidth:32, itemHeight:5,
    borderColor:'#000', borderWidth:1, padding:[1, 3, 1, 3],
    textStyle:{color:'#000', fontFamily:F, fontSize:15}});
});

const chart = echarts.init(document.getElementById('c'), null, {renderer:'canvas'});
chart.setOption({
  animation:false, backgroundColor:'#fff',
  textStyle:{fontFamily:F},
  grid:grids, xAxis:xAxes, yAxis:yAxes, legend:legends, series:series, graphic:graphics
});
</script>
</body></html>
